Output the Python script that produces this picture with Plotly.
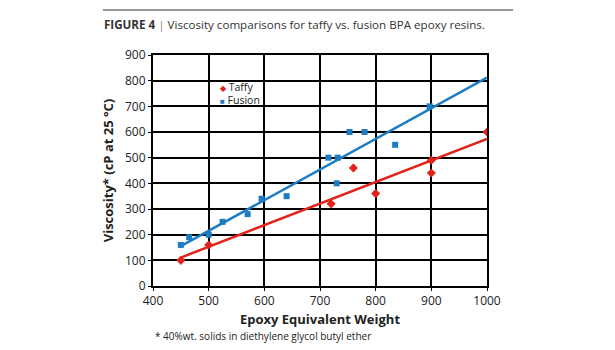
import numpy as np
import plotly.graph_objects as go

# Data
taffy_eew = [450, 500, 720, 760, 800, 900, 900, 1000]
taffy_visc = [100, 160, 320, 460, 360, 440, 490, 600]
fusion_eew = [450, 465, 500, 525, 570, 595, 640, 715, 730, 732, 753, 780, 835, 897]
fusion_visc = [160, 190, 200, 250, 280, 340, 350, 500, 400, 500, 600, 600, 550, 700]
trend_range = [450, 1000]
x_ticks = [400, 500, 600, 700, 800, 900, 1000]
y_ticks = [0, 100, 200, 300, 400, 500, 600, 700, 800, 900]
series_names = ["Taffy", "Fusion"]

RED = "#e2231a"
BLUE = "#1b7cc3"
FONT = "Open Sans"

W, H = 615, 350
L, R, T, B = 153, 128, 55, 64
pw, ph = W - L - R, H - T - B

def px_to_paper_x(px):
    return (px - L) / pw

def px_to_paper_y(py):
    return (H - B - py) / ph

fig = go.Figure()

xt = np.array(trend_range, dtype=float)
for xs, ys, col in [(taffy_eew, taffy_visc, RED), (fusion_eew, fusion_visc, BLUE)]:
    m, c = np.polyfit(xs, ys, 1)
    fig.add_trace(go.Scatter(x=xt, y=m * xt + c, mode="lines",
                             line=dict(color=col, width=2.5), showlegend=False,
                             hoverinfo="skip"))

fig.add_trace(go.Scatter(x=taffy_eew, y=taffy_visc, mode="markers", name=series_names[0],
                         marker=dict(symbol="diamond", color=RED, size=7), showlegend=False))
fig.add_trace(go.Scatter(x=fusion_eew, y=fusion_visc, mode="markers", name=series_names[1],
                         marker=dict(symbol="square", color=BLUE, size=6), showlegend=False))

axis_common = dict(showgrid=True, gridcolor="black", gridwidth=2,
                   showline=True, linecolor="black", linewidth=2, mirror=True,
                   ticks="outside", ticklen=3, tickcolor="black", zeroline=False,
                   tickfont=dict(family=FONT, size=12, color="#222"))

fig.update_layout(
    width=W, height=H,
    margin=dict(l=L, r=R, t=T, b=B),
    paper_bgcolor="white", plot_bgcolor="white",
    font=dict(family=FONT, color="#222"),
    xaxis=dict(range=[400, 1000], tickvals=x_ticks,
               title=dict(text="<b>Epoxy Equivalent Weight</b>", font=dict(family=FONT, size=13), standoff=6),
               **axis_common),
    yaxis=dict(range=[0, 900], tickvals=y_ticks,
               title=dict(text="<b>Viscosity* (cP at 25 °C)</b>", font=dict(family=FONT, size=13), standoff=8),
               **axis_common),
    showlegend=False,
)

# Legend (symbol + label)
for name, sym, col, py in [(series_names[0], "◆", RED, 86.5), (series_names[1], "■", BLUE, 99.5)]:
    fig.add_annotation(xref="paper", yref="paper", x=px_to_paper_x(219), y=px_to_paper_y(py),
                       xanchor="left", yanchor="middle", showarrow=False, borderpad=0,
                       text=f"<span style='color:{col};font-size:8px'>{sym}</span> {name}",
                       font=dict(family=FONT, size=10.5, color="#222"))

fig.add_shape(type="line", xref="paper", yref="paper",
              x0=px_to_paper_x(103), x1=px_to_paper_x(513),
              y0=px_to_paper_y(10), y1=px_to_paper_y(10),
              line=dict(color="#777", width=1.5))

fig.add_annotation(xref="paper", yref="paper", x=px_to_paper_x(102), y=px_to_paper_y(25),
                   xanchor="left", yanchor="middle", showarrow=False,
                   text="<b>FIGURE 4</b> <span style='color:#888'>|</span> Viscosity comparisons for taffy vs. fusion BPA epoxy resins.",
                   font=dict(family=FONT, size=11.6, color="#333"))
fig.add_annotation(xref="paper", yref="paper", x=px_to_paper_x(153), y=px_to_paper_y(336),
                   xanchor="left", yanchor="middle", showarrow=False,
                   text="* 40%wt. solids in diethylene glycol butyl ether",
                   font=dict(family=FONT, size=10, color="#222"))

fig.write_html("out.html")
